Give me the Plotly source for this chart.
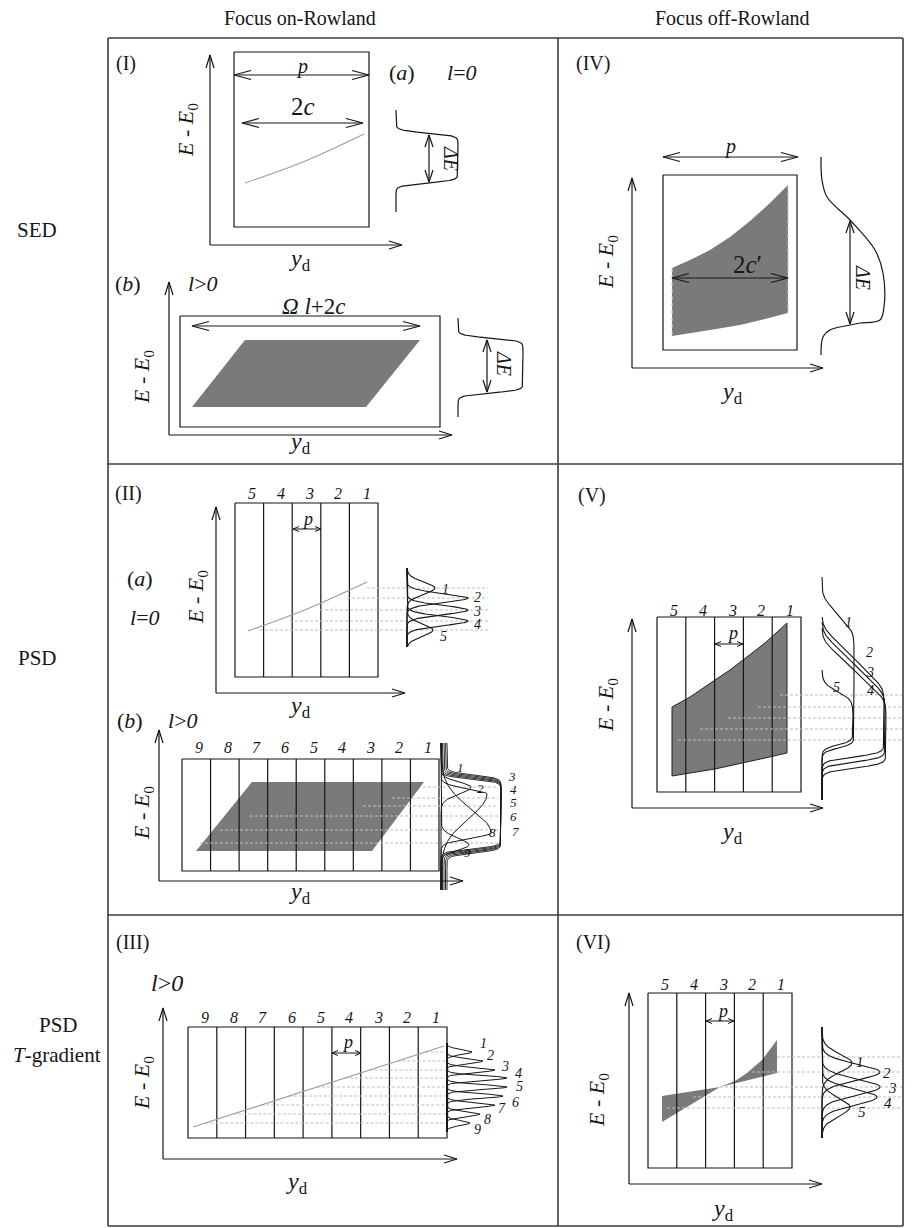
import numpy as np
import plotly.graph_objects as go

W, H = 913, 1228
SERIF = "Liberation Serif"
INK = "#161616"
FRAME = "#3c3c3c"
FILL = "#7a7a7a"
GUIDE = "#bdbdbd"
TRACE = "#9c9c9c"

# ---------------- data ----------------
column_titles = ["Focus on-Rowland", "Focus off-Rowland"]
row_titles = ["SED", "PSD", "PSD", "<i>T</i>-gradient"]
panel_tags = ["(I)", "(II)", "(III)", "(IV)", "(V)", "(VI)"]
strip_numbers_5 = ["5", "4", "3", "2", "1"]
strip_numbers_9 = ["9", "8", "7", "6", "5", "4", "3", "2", "1"]

# I(a) l=0 : image line and flat-top response
Ia_line_yd = [245, 303, 364]
Ia_line_E = [183, 162, 134]
Ia_step_edges = [133, 183]
Ia_step_height = 62
# I(b) l>0 : parallelogram image and flat-top response
Ib_band_yd = [245, 420, 366, 192]
Ib_band_E = [340, 340, 407, 407]
Ib_step_edges = [338, 393]
Ib_step_height = 65
# IV : off-Rowland band and its response
IV_top_yd = [672, 690, 710, 730, 750, 770, 788]
IV_top_E = [268, 260, 250, 237, 221, 203, 185]
IV_bot_yd = [788, 765, 740, 710, 690, 672]
IV_bot_E = [313, 319, 325, 330, 333, 336]
IV_resp_I = [0, 1, 6, 29, 54, 62, 63, 59, 39, 29, 9, 2, 0]
IV_resp_E = [157, 180, 197, 220, 250, 273, 307, 320, 323, 325, 330, 337, 355]

# II(a) : image line and five strip peaks
IIa_line_yd = [248, 307, 367]
IIa_line_E = [631, 609, 582]
IIa_peak_E = [588, 598, 610, 621, 630]
IIa_peak_I = [28, 61, 61, 61, 26]
IIa_peak_w = [6, 4.5, 4.5, 4.5, 6]
IIa_guide_from = [367, 347, 320, 290, 260]
# II(b) : parallelogram and nine strip responses
IIb_band_yd = [252, 424, 372, 196]
IIb_band_E = [782, 782, 851, 851]
IIb_edge_peaks = {  # strip: (centre, upper width, lower width, height)
    "1": (787, 5, 7, 30), "2": (794, 5, 24, 46),
    "8": (833, 24, 5, 50), "9": (845, 7, 5, 28)}
IIb_flat_top = [779, 778, 777, 776, 775]
IIb_flat_bot = [849, 850, 851, 852, 853]
IIb_flat_I = [60, 58.5, 57, 55.5, 54]
IIb_guide_E = [787, 798, 806, 816, 830, 843]
IIb_guide_from = [423, 392, 363, 250, 220, 200]

# III : T-gradient line and nine narrow peaks
III_line_yd = [193, 444]
III_line_E = [1127, 1046]
III_peak_E = [1052, 1061, 1070, 1078, 1087, 1096, 1105, 1114, 1123]
III_peak_I = [25, 36, 48, 60, 60, 56, 48, 33, 23]

# V : band and five strip responses (ramp start, ramp end, height, fall)
V_top_yd = [672, 690, 715, 730, 743, 765, 787]
V_top_E = [707, 697, 680, 670, 660, 643, 623]
V_bot_yd = [787, 765, 743, 715, 690, 672]
V_bot_E = [753, 758, 763, 769, 773, 776]
V_resp_start = [577, 617, 622, 628, 670]
V_ramp_lo = [597, 627, 633, 640, 686]
V_ramp_hi = [632, 688, 694, 700, 697]
V_resp_I = [32, 62, 63, 64, 31]
V_resp_fall = [748, 757, 762, 768, 745]
V_guide_E = [695, 707, 718, 729, 740]
V_guide_from = [780, 758, 728, 700, 678]

# VI : bow-tie image and five peaks
VI_band_yd = [662, 720, 735, 747, 762, 777, 777, 720, 662]
VI_band_E = [1096, 1087, 1081, 1073, 1060, 1040, 1073, 1087, 1122]
VI_peak_E = [1063, 1072, 1087, 1097, 1107]
VI_peak_I = [30, 58, 58, 55, 28]
VI_peak_w = [9, 8, 8, 8, 9]
VI_guide_E = [1057, 1072, 1087, 1097, 1108]
VI_guide_from = [777, 752, 720, 693, 667]

fig = go.Figure()


def seg(xs, ys, color=INK, width=1.2, dash=None, shape="linear"):
    fig.add_trace(go.Scatter(x=list(xs), y=list(ys), mode="lines",
                             line=dict(color=color, width=width, dash=dash, shape=shape),
                             hoverinfo="skip", showlegend=False))


def poly(xs, ys, fill=FILL, lc=None, lw=0):
    xs, ys = list(xs), list(ys)
    fig.add_trace(go.Scatter(x=xs + [xs[0]], y=ys + [ys[0]], mode="lines", fill="toself",
                             fillcolor=fill, line=dict(color=lc or fill, width=lw),
                             hoverinfo="skip", showlegend=False))


def head(tx, ty, dx, dy, L=12, hw=4, width=1.2):
    n = np.hypot(dx, dy)
    ux, uy = dx / n, dy / n
    bx, by = tx - ux * L, ty - uy * L
    px, py = -uy, ux
    seg([bx + px * hw, tx, bx - px * hw], [by + py * hw, ty, by - py * hw], width=width)


def arrow(x0, y0, x1, y1, both=False, L=12, hw=4, width=1.2):
    seg([x0, x1], [y0, y1], width=width)
    head(x1, y1, x1 - x0, y1 - y0, L, hw, width)
    if both:
        head(x0, y0, x0 - x1, y0 - y1, L, hw, width)


def txt(x, y, s, size=20, angle=0, xanchor="center", color=INK, family=SERIF):
    fig.add_annotation(x=x, y=y, xref="x", yref="y", text=s, showarrow=False,
                       font=dict(family=family, size=size, color=color),
                       textangle=angle, xanchor=xanchor, yanchor="middle")


def rect(x0, y0, x1, y1, width=1.2, color=INK):
    seg([x0, x1, x1, x0, x0], [y0, y0, y1, y1, y0], color=color, width=width)


def strips(x0, y0, x1, y1, labels, label_y, size=16):
    rect(x0, y0, x1, y1)
    edges = np.linspace(x0, x1, len(labels) + 1)
    for e in edges[1:-1]:
        seg([e, e], [y0, y1])
    for lab, a, b in zip(labels, edges[:-1], edges[1:]):
        txt((a + b) / 2 + 3, label_y, "<i>%s</i>" % lab, size=size)


def axes(x0, y_bottom, y_top, x_right):
    arrow(x0, y_bottom, x0, y_top, L=13, hw=4)
    arrow(x0, y_bottom, x_right, y_bottom, L=13, hw=4)


def plateau(y, a, b, s):
    return 0.5 * (np.tanh((y - a) / s) - np.tanh((y - b) / s))


def gauss(y, c, s):
    return np.exp(-0.5 * ((y - c) / s) ** 2)


def skew(y, c, s1, s2):
    s = np.where(y < c, s1, s2)
    return np.exp(-0.5 * ((y - c) / s) ** 2)


def ramp(y, lo, hi, k=4.0):
    return (np.logaddexp(0, (y - lo) / k) - np.logaddexp(0, (y - hi) / k)) * k / (hi - lo)


def profile(base, y0, y1, func, **kw):
    y = np.linspace(y0, y1, 500)
    seg(base + func(y), y, **kw)


EY = "<i>E</i> - <i>E</i><sub>0</sub>"
YD = "<i>y</i><sub>d</sub>"
DE = "<i>ΔE</i>"

# ---------------- frame ----------------
L_, M_, R_ = 108, 558, 903
T_, D1, D2, B_ = 38, 464, 915, 1226
for yy in (T_, D1, D2, B_):
    seg([L_, R_], [yy, yy], color=FRAME, width=1.6)
for xx in (L_, M_, R_):
    seg([xx, xx], [T_, B_], color=FRAME, width=1.6)

txt(300, 18, column_titles[0], size=20)
txt(732, 18, column_titles[1], size=20)
txt(37, 230, row_titles[0], size=21)
txt(37, 658, row_titles[1], size=21)
txt(58, 1025, row_titles[2], size=21)
txt(57, 1055, row_titles[3], size=21)

txt(126, 63, panel_tags[0])
txt(128, 493, panel_tags[1])
txt(132, 942, panel_tags[2])
txt(593, 63, panel_tags[3])
txt(592, 495, panel_tags[4])
txt(593, 942, panel_tags[5])

# ---------------- panel I(a) ----------------
axes(210, 245, 55, 402)
rect(234, 52, 369, 227)
arrow(234, 75, 369, 75, both=True, L=17, hw=4.5)
txt(302, 66, "<i>p</i>", size=20)
arrow(242, 123, 363, 123, both=True, L=17, hw=4.5)
txt(303, 106, "2<i>c</i>", size=25)
seg(Ia_line_yd, Ia_line_E, color=TRACE, width=1.1, shape="spline")
txt(402, 72, "(<i>a</i>)", size=22)
txt(462, 72, "<i>l</i>=<i>0</i>", size=22)
txt(187, 130, EY, size=22, angle=-90)
txt(300, 260, YD, size=24)
profile(396, 110, 212, lambda y: Ia_step_height * plateau(y, Ia_step_edges[0], Ia_step_edges[1], 2.8))
arrow(429, 135, 429, 182, both=True, L=12, hw=4)
txt(451, 158, DE, size=20, angle=90)

# ---------------- panel I(b) ----------------
txt(128, 283, "(<i>b</i>)", size=22)
txt(203, 283, "<i>l</i>&gt;<i>0</i>", size=22)
axes(169, 435, 282, 452)
rect(180, 316, 440, 427)
poly(Ib_band_yd, Ib_band_E)
arrow(192, 326, 420, 326, both=True, L=17, hw=4.5)
txt(313, 306, "<i>Ω</i> <i>l</i>+2<i>c</i>", size=23)
txt(143, 377, EY, size=22, angle=-90)
txt(300, 443, YD, size=24)
profile(458, 318, 417, lambda y: Ib_step_height * plateau(y, Ib_step_edges[0], Ib_step_edges[1], 2.8))
arrow(487, 340, 487, 392, both=True, L=12, hw=4)
txt(504, 363, DE, size=20, angle=90)

# ---------------- panel IV ----------------
axes(632, 368, 178, 823)
rect(663, 175, 797, 350)
arrow(663, 157, 798, 157, both=True, L=17, hw=4.5)
txt(730, 146, "<i>p</i>", size=20)
poly(IV_top_yd + IV_bot_yd, IV_top_E + IV_bot_E)
seg([672, 672], [268, 336], color="#d0d0d0", width=1, dash="4px,3px")
seg([788, 788], [185, 313], color="#d0d0d0", width=1, dash="4px,3px")
arrow(672, 278, 788, 278, both=True, L=17, hw=4.5)
txt(747, 264, "2<i>c</i>′", size=25)
txt(607, 262, EY, size=22, angle=-90)
txt(732, 393, YD, size=24)
seg([821 + v for v in IV_resp_I], IV_resp_E, shape="spline")
arrow(850, 221, 850, 324, both=True, L=12, hw=4)
txt(863, 277, DE, size=20, angle=90)

# ---------------- panel II(a) ----------------
axes(216, 693, 507, 405)
strips(235, 503, 378, 677, strip_numbers_5, 493)
arrow(293, 529, 321, 529, both=True, L=6, hw=2.5, width=1)
txt(307, 519, "<i>p</i>", size=18)
txt(140, 578, "(<i>a</i>)", size=22)
txt(145, 617, "<i>l</i>=<i>0</i>", size=22)
txt(197, 597, EY, size=22, angle=-90)
txt(300, 707, YD, size=24)
seg(IIa_line_yd, IIa_line_E, color=TRACE, width=1.1, shape="spline")
for e, x0 in zip(IIa_peak_E, IIa_guide_from):
    seg([x0, 488], [e, e], color=GUIDE, width=1, dash="3px,2px")
for c, h, w in zip(IIa_peak_E, IIa_peak_I, IIa_peak_w):
    profile(407, 568, 647, lambda y, c=c, h=h, w=w: h * gauss(y, c, w), width=1.1)
for lab, (x, y) in zip(["1", "2", "3", "4", "5"],
                       [(445, 589), (477, 597), (477, 611), (477, 624), (443, 636)]):
    txt(x, y, "<i>%s</i>" % lab, size=14)

# ---------------- panel II(b) ----------------
txt(130, 720, "(<i>b</i>)", size=22)
txt(183, 720, "<i>l</i>&gt;<i>0</i>", size=22)
axes(159, 881, 730, 463)
poly(IIb_band_yd, IIb_band_E)
strips(182, 759, 439, 871, strip_numbers_9, 747)
txt(143, 813, EY, size=22, angle=-90)
txt(300, 893, YD, size=24)
for e, x0 in zip(IIb_guide_E, IIb_guide_from):
    seg([x0, 498], [e, e], color=GUIDE, width=1, dash="3px,2px")
for i, (a, b, h) in enumerate(zip(IIb_flat_top, IIb_flat_bot, IIb_flat_I)):
    profile(441 + 1.5 * i, 743, 890, lambda y, a=a, b=b, h=h: h * plateau(y, a, b, 3.0), width=0.9)
for key, (c, s1, s2, h) in IIb_edge_peaks.items():
    profile(441, 743, 890, lambda y, c=c, s1=s1, s2=s2, h=h: h * skew(y, c, s1, s2), width=1.0)
for lab, (x, y) in zip(["1", "2", "3", "4", "5", "6", "7", "8", "9"],
                       [(460, 767), (480, 788), (512, 776), (513, 789), (513, 802),
                        (513, 816), (515, 831), (492, 832), (467, 852)]):
    txt(x, y, "<i>%s</i>" % lab, size=13)

# ---------------- panel V ----------------
axes(632, 808, 619, 823)
poly(V_top_yd + V_bot_yd, V_top_E + V_bot_E, lc="#222222", lw=1)
strips(657, 617, 801, 792, strip_numbers_5, 610)
arrow(715, 644, 743, 644, both=True, L=6, hw=2.5, width=1)
txt(732, 633, "<i>p</i>", size=18)
txt(607, 705, EY, size=22, angle=-90)
txt(732, 833, YD, size=24)
for e, x0 in zip(V_guide_E, V_guide_from):
    seg([x0, 902], [e, e], color=GUIDE, width=1, dash="3px,2px")
for y0, lo, hi, h, fall in zip(V_resp_start, V_ramp_lo, V_ramp_hi, V_resp_I, V_resp_fall):
    profile(822, y0, 800,
            lambda y, lo=lo, hi=hi, h=h, fall=fall: h * ramp(y, lo, hi, 3.5) * 0.5 * (1 - np.tanh((y - fall) / 4.0)),
            width=1.1)
for lab, (x, y) in zip(["1", "2", "3", "4", "5"],
                       [(848, 622), (869, 652), (870, 672), (870, 690), (836, 687)]):
    txt(x, y, "<i>%s</i>" % lab, size=14)

# ---------------- panel III ----------------
txt(167, 983, "<i>l</i>&gt;<i>0</i>", size=24)
axes(163, 1159, 1008, 457)
strips(188, 1027, 447, 1138, strip_numbers_9, 1017)
arrow(332, 1053, 361, 1053, both=True, L=6, hw=2.5, width=1)
txt(347, 1042, "<i>p</i>", size=18)
txt(143, 1083, EY, size=22, angle=-90)
txt(297, 1183, YD, size=24)
slope = (III_line_yd[1] - III_line_yd[0]) / (III_line_E[1] - III_line_E[0])
for e in III_peak_E:
    x0 = III_line_yd[0] + (e - III_line_E[0]) * slope
    seg([x0, 447], [e, e], color=GUIDE, width=1, dash="3px,2px")
seg(III_line_yd, III_line_E, color=TRACE, width=1.1)
for c, h in zip(III_peak_E, III_peak_I):
    profile(447, 1043, 1132, lambda y, c=c, h=h: h * gauss(y, c, 2.4), width=1.0)
for lab, (x, y) in zip(["1", "2", "3", "4", "5", "6", "7", "8", "9"],
                       [(483, 1043), (490, 1055), (505, 1066), (518, 1073), (519, 1086),
                        (515, 1102), (502, 1108), (487, 1119), (477, 1129)]):
    txt(x, y, "<i>%s</i>" % lab, size=14)

# ---------------- panel VI ----------------
axes(629, 1184, 993, 822)
poly(VI_band_yd, VI_band_E)
strips(648, 993, 792, 1168, strip_numbers_5, 984)
arrow(706, 1021, 734, 1021, both=True, L=6, hw=2.5, width=1)
txt(722, 1011, "<i>p</i>", size=18)
txt(598, 1100, EY, size=22, angle=-90)
txt(723, 1210, YD, size=24)
for e, x0 in zip(VI_guide_E, VI_guide_from):
    seg([x0, 902], [e, e], color=GUIDE, width=1, dash="3px,2px")
for c, h, w in zip(VI_peak_E, VI_peak_I, VI_peak_w):
    profile(822, 1027, 1138, lambda y, c=c, h=h, w=w: h * gauss(y, c, w), width=1.1)
for lab, (x, y) in zip(["1", "2", "3", "4", "5"],
                       [(860, 1062), (887, 1073), (892, 1088), (888, 1103), (862, 1112)]):
    txt(x, y, "<i>%s</i>" % lab, size=15)

fig.update_layout(
    width=W, height=H, autosize=False,
    margin=dict(l=0, r=0, t=0, b=0, pad=0),
    paper_bgcolor="white", plot_bgcolor="white", showlegend=False,
    xaxis=dict(range=[0, W], visible=False, fixedrange=True),
    yaxis=dict(range=[H, 0], visible=False, fixedrange=True),
)
fig.write_html("out.html")
